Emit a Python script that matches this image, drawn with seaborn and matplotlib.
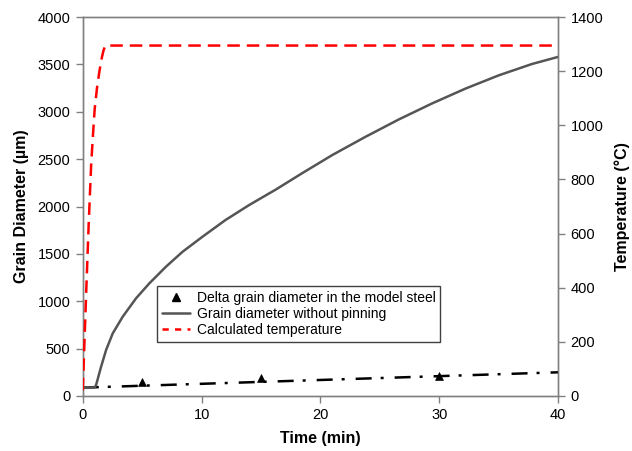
import matplotlib
matplotlib.use("Agg")
import matplotlib.pyplot as plt
import seaborn as sns
import pandas as pd
from matplotlib.lines import Line2D

# Grain growth without pinning (time in min, diameter in µm)
growth_time = [0, 1.0, 1.12, 1.54, 1.96, 2.52, 3.36, 4.48, 5.6, 7.0, 8.4,
               10.08, 12.0, 14.0, 16.25, 18.5, 21.0, 23.8, 26.6, 29.4,
               32.2, 35.0, 37.8, 40.0]
growth_diam = [88, 90, 116, 309, 485, 661, 837, 1031, 1189, 1365, 1523,
               1682, 1857, 2016, 2180, 2355, 2544, 2737, 2920, 3089,
               3245, 3385, 3505, 3580]

# Measured delta grain diameter in the model steel
delta_time = [5, 15, 30]
delta_diam = [150, 188, 210]

# Trend line through the measured delta grain diameters
trend_time = [0, 20, 40]
trend_diam = [88, 169, 250]

# Calculated temperature (°C)
temp_time = [0, 0.1, 0.3, 0.5, 0.7, 0.85, 1.0, 1.2, 1.4, 1.6, 1.75, 1.9, 40]
temp_vals = [21, 150, 400, 640, 850, 960, 1060, 1140, 1200, 1250, 1278,
             1295, 1295]

x_ticks = [0, 10, 20, 30, 40]
left_ticks = [0, 500, 1000, 1500, 2000, 2500, 3000, 3500, 4000]
right_ticks = [0, 200, 400, 600, 800, 1000, 1200, 1400]

sns.set_style("ticks")
plt.rcParams["font.family"] = ["Liberation Sans", "DejaVu Sans"]
plt.rcParams["text.color"] = "black"
plt.rcParams["axes.labelcolor"] = "black"
plt.rcParams["xtick.labelcolor"] = "black"
plt.rcParams["ytick.labelcolor"] = "black"

growth = pd.DataFrame({"t": growth_time, "d": growth_diam})
delta = pd.DataFrame({"t": delta_time, "d": delta_diam})
trend = pd.DataFrame({"t": trend_time, "d": trend_diam})
temp = pd.DataFrame({"t": temp_time, "T": temp_vals})

fig = plt.figure(figsize=(6.32, 4.51), dpi=100)
ax = fig.add_axes([0.131, 0.122, 0.752, 0.840])
ax2 = ax.twinx()

spine_col = "#808080"
lw = 1.8

sns.lineplot(data=trend, x="t", y="d", ax=ax, color="black", lw=lw,
             linestyle=(0, (6.4, 3.6, 1.2, 4.4)), zorder=3)
sns.scatterplot(data=delta, x="t", y="d", ax=ax, marker="^", s=32,
                color="black", edgecolor="black", linewidth=0.5, zorder=4)
sns.lineplot(data=growth, x="t", y="d", ax=ax, color="#555555", lw=lw, zorder=3)
sns.lineplot(data=temp, x="t", y="T", ax=ax2, color="#ff0000", lw=lw,
             linestyle=(0, (5, 2.8)), zorder=3)

ax.set_xlim(0, 40)
ax.set_ylim(0, 4000)
ax2.set_ylim(0, 1400)
ax.set_xticks(x_ticks)
ax.set_yticks(left_ticks)
ax2.set_yticks(right_ticks)

tick_fs = 10.5
ax.tick_params(axis="both", direction="out", length=5, width=1,
               color=spine_col, labelsize=tick_fs, pad=4)
ax2.tick_params(axis="y", direction="out", length=5, width=1,
                color=spine_col, labelsize=tick_fs, pad=4)

for a in (ax, ax2):
    for s in a.spines.values():
        s.set_color(spine_col)
        s.set_linewidth(1)
        s.set_visible(True)

ax.set_xlabel("Time (min)", fontsize=11.5, fontweight="bold", labelpad=6)
ax.set_ylabel("Grain Diameter (µm)", fontsize=11.5, fontweight="bold", labelpad=6)
ax2.set_ylabel("Temperature (°C)", fontsize=11.5, fontweight="bold", labelpad=8)

handles = [
    Line2D([], [], marker="^", color="black", linestyle="none", markersize=5.5),
    Line2D([], [], color="#555555", lw=lw),
    Line2D([], [], color="#ff0000", lw=lw, linestyle=(0, (2.5, 2.5))),
]
labels = ["Delta grain diameter in the model steel",
          "Grain diameter without pinning",
          "Calculated temperature"]
leg = ax2.legend(handles, labels, loc="lower left",
                 bbox_to_anchor=(0.156, 0.142), fontsize=10, frameon=True,
                 fancybox=False, edgecolor="#404040", framealpha=1,
                 borderpad=0.35, labelspacing=0.15, handlelength=2.0,
                 handletextpad=0.5, borderaxespad=0)
leg.get_frame().set_linewidth(1)

fig.savefig("out.png", dpi=100)
